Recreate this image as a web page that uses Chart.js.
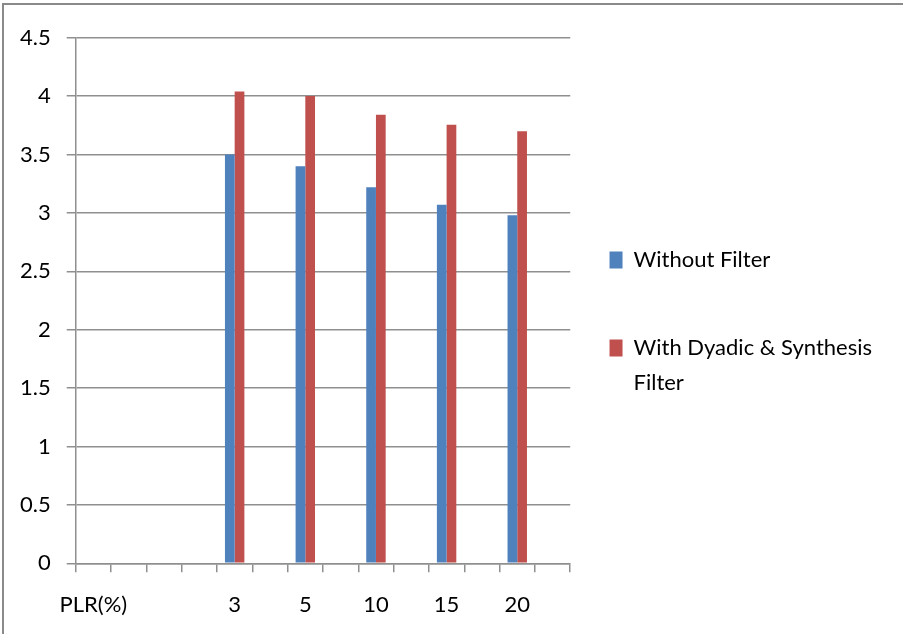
<!DOCTYPE html>
<html>
<head>
<meta charset="utf-8">
<title>PLR chart</title>
<script src="https://cdn.jsdelivr.net/npm/chart.js@4.4.1/dist/chart.umd.min.js"></script>
<style>
  body { margin: 0; background: #fff; }
  #wrap { position: relative; width: 903px; height: 634px; }
  #frame {
    position: absolute; left: 2px; top: 3px; right: 0; bottom: 0;
    border-left: 2px solid #8a8a8a; border-top: 2px solid #8a8a8a;
    pointer-events: none;
  }
</style>
</head>
<body>
<div id="wrap">
  <canvas id="myChart" width="903" height="634"></canvas>
  <div id="frame"></div>
</div>
<script>
// categories on the x axis (empty slots are kept like in the original sheet)
const categories = ['PLR(%)', '', '', '', '3', '', '5', '', '10', '', '15', '', '20', ''];

// series values
const withoutFilter = [null, null, null, null, 3.5, null, 3.4, null, 3.22, null, 3.07, null, 2.98, null];
const withFilter = [null, null, null, null, 4.04, null, 4.0, null, 3.84, null, 3.755, null, 3.70, null];

// legend texts (second one wraps like in the picture)
const seriesNames = [['Without Filter', ''], ['With Dyadic & Synthesis', 'Filter']];

// y axis ticks
const yTicks = [0, 0.5, 1, 1.5, 2, 2.5, 3, 3.5, 4, 4.5];

Chart.defaults.font.family = 'Lato, "Open Sans", sans-serif';
Chart.defaults.font.size = 22;
Chart.defaults.color = '#000';

const gridGrey = '#8f8f8f';

const ctx = document.getElementById('myChart');

let barChart = new Chart(ctx, {
  type: 'bar',
  data: {
    labels: categories,
    datasets: [{
      label: 'Without Filter',
      data: withoutFilter,
      backgroundColor: '#4F81BD'
    }, {
      label: 'With Dyadic & Synthesis Filter',
      data: withFilter,
      backgroundColor: '#C0504D'
    }]
  },
  options: {
    responsive: false,
    animation: false,
    categoryPercentage: 0.55,
    barPercentage: 1,
    layout: {
      padding: { left: 4, top: 37.7, right: 21, bottom: 16.3 }
    },
    plugins: {
      tooltip: { enabled: false },
      legend: {
        position: 'right',
        maxWidth: 340,
        labels: {
          boxWidth: 13,
          boxHeight: 17,
          padding: 18.6,
          font: { size: 22, lineHeight: 1.58 },
          generateLabels: function(chart) {
            const items = Chart.defaults.plugins.legend.labels.generateLabels(chart);
            items.forEach((item, i) => {
              item.text = seriesNames[i];
              item.lineWidth = 0;
            });
            return items;
          }
        }
      }
    },
    scales: {
      x: {
        grid: {
          offset: true,
          drawOnChartArea: false,
          tickLength: 9,
          color: gridGrey,
          lineWidth: 1.5
        },
        border: { color: gridGrey, width: 1.5 },
        ticks: {
          autoSkip: false,
          maxRotation: 0,
          padding: 19.7
        },
        afterFit: function(scale) {
          scale.height = 54.4;
        }
      },
      y: {
        min: 0,
        max: 4.5,
        afterBuildTicks: function(scale) {
          scale.ticks = yTicks.map(v => ({ value: v }));
        },
        grid: {
          tickLength: 9,
          color: gridGrey,
          lineWidth: 1.5
        },
        border: { color: gridGrey, width: 1.5 },
        ticks: {
          padding: 16,
          callback: value => String(value)
        }
      },
      // empty axis on the right, only keeps a gap before the legend
      gap: {
        position: 'right',
        grid: { display: false },
        border: { display: false },
        ticks: { display: false },
        afterFit: function(scale) {
          scale.width = 20.7;
        }
      }
    }
  }
});

console.log(JSON.stringify(barChart.chartArea), barChart.legend.left, barChart.legend.width);
</script>
</body>
</html>
